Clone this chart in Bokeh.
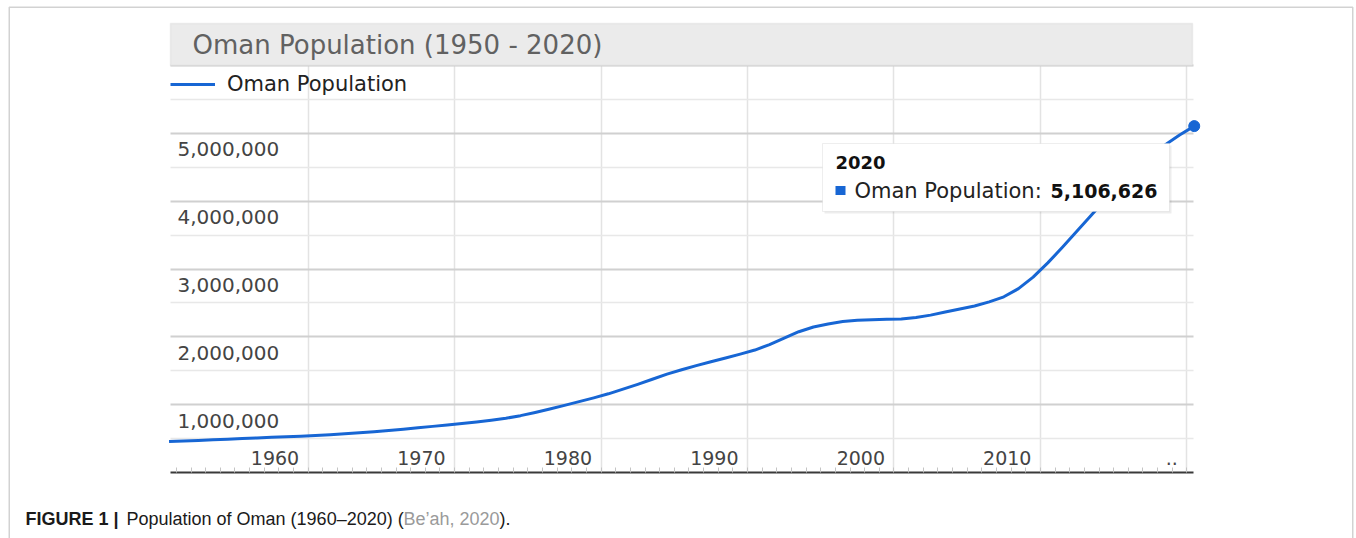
from bokeh.plotting import figure
from bokeh.models import (Range1d, FixedTicker, BoxAnnotation, Label, Legend,
                          LegendItem, ColumnDataSource, LinearAxis, Grid)
from bokeh.core.properties import value
from bokeh.embed import file_html
from bokeh.resources import INLINE

# ---------------- data ----------------
years = list(range(1950, 2021))
population = [
    457000, 465000, 473000, 482000, 491000, 500000, 509000, 518000, 527000, 536000,   # 1950-1959
    546000, 558000, 571000, 586000, 602000, 620000, 639000, 659000, 680000, 701000,   # 1960-1969
    722000, 745000, 771000, 800000, 838000, 885000, 935000, 990000, 1045000, 1100000, # 1970-1979
    1160000, 1230000, 1300000, 1375000, 1450000, 1515000, 1575000, 1632000, 1688000, 1745000,  # 1980-1989
    1805000, 1885000, 1980000, 2075000, 2145000, 2190000, 2225000, 2243000, 2253000, 2258000,  # 1990-1999
    2262000, 2285000, 2320000, 2365000, 2410000, 2455000, 2515000, 2590000, 2710000, 2880000,  # 2000-2009
    3090000, 3320000, 3560000, 3800000, 4040000, 4267341, 4479219, 4665928, 4829473, 4974986,  # 2010-2019
    5106626,                                                                                    # 2020
]
decade_ticks = [1960, 1970, 1980, 1990, 2000, 2010, 2020]
decade_labels = ["1960", "1970", "1980", "1990", "2000", "2010", ".."]
y_major = [1_000_000, 2_000_000, 3_000_000, 4_000_000, 5_000_000]
y_labels = ["1,000,000", "2,000,000", "3,000,000", "4,000,000", "5,000,000"]
y_minor = [500_000, 1_500_000, 2_500_000, 3_500_000, 4_500_000, 5_500_000]
y_top = 6_000_000

title_text = "Oman Population (1950 - 2020)"
series_name = "Oman Population"
caption_bold = "FIGURE 1 |"
caption_text = "Population of Oman (1960\u20132020) ("
caption_ref = "Be\u2019ah, 2020"
caption_end = ")."

# ---------------- layout / styles ----------------
BLUE = "#1766d4"
FONT = "DejaVu Sans"
CAPFONT = "Liberation Sans"

W, H = 1356, 538
CH_L, CH_R, CH_T, CH_B = 170, 1193, 65, 472      # chart area in page px
X0, X1 = 1950.6, 2020.45                          # visible chart domain
Y0, Y1 = 0, y_top

kx = (CH_R - CH_L) / (X1 - X0)
ky = (CH_B - CH_T) / (Y1 - Y0)
x_range = Range1d(X0 - CH_L / kx, X0 + (W - CH_L) / kx)
y_range = Range1d(Y0 - (H - CH_B) / ky, Y1 + CH_T / ky)

def sx(px):
    return px

def sy(py):
    return H - py

p = figure(width=W, height=H, x_range=x_range, y_range=y_range,
           x_axis_location=None, y_axis_location=None,
           min_border=0, min_border_left=0, min_border_right=0,
           min_border_top=0, min_border_bottom=0,
           output_backend="svg", toolbar_location=None)
p.outline_line_color = None
p.background_fill_color = "white"
p.border_fill_color = "white"
p.xgrid.visible = False
p.ygrid.visible = False

# grids restricted to the chart area
has_cross = "cross_bounds" in Grid.properties()
xg = Grid(dimension=0, ticker=FixedTicker(ticks=decade_ticks),
          grid_line_color="#e3e3e3", grid_line_width=1.5)
yg = Grid(dimension=1, ticker=FixedTicker(ticks=y_major + [y_top], minor_ticks=y_minor),
          grid_line_color="#d0d0d0", grid_line_width=2,
          minor_grid_line_color="#e8e8e8", minor_grid_line_width=1.5)
if has_cross:
    xg.cross_bounds = (Y0, Y1)
    yg.cross_bounds = (X0, X1)
    p.add_layout(xg)
    p.add_layout(yg)
else:
    p.segment(x0=decade_ticks, x1=decade_ticks, y0=[Y0] * len(decade_ticks), y1=[Y1] * len(decade_ticks),
              line_color="#e3e3e3", line_width=1.5)
    p.segment(x0=[X0] * len(y_minor), x1=[X1] * len(y_minor), y0=y_minor, y1=y_minor,
              line_color="#e8e8e8", line_width=1.5)
    p.segment(x0=[X0] * 6, x1=[X1] * 6, y0=y_major + [y_top], y1=y_major + [y_top],
              line_color="#d0d0d0", line_width=2)

# x axis as baseline at y = 0, with yearly minor ticks (labels drawn inside the chart)
xa = LinearAxis(fixed_location=0, bounds=(X0, X1),
                ticker=FixedTicker(ticks=[], minor_ticks=years[1:]))
xa.major_label_standoff = 0
xa.major_tick_line_color = None
xa.major_tick_in = 0
xa.major_tick_out = 0
xa.minor_tick_in = 5
xa.minor_tick_out = 0
xa.minor_tick_line_color = "#c4c4c4"
xa.axis_line_color = "#3a3a3a"
xa.axis_line_width = 2
p.add_layout(xa, "below")

# series (mid-year values)
src = ColumnDataSource(dict(x=[y + 0.5 for y in years], pop=population))
r = p.line("x", "pop", source=src, line_color=BLUE, line_width=3, line_join="round")
p.scatter(x=[years[-1] + 0.5], y=[population[-1]], size=11, color=BLUE)

# axis labels inside the chart area
p.text(x=[X0] * len(y_major), y=y_major, text=y_labels,
       x_offset=7, y_offset=16, text_align="left", text_baseline="middle",
       text_font=value(FONT), text_font_size="20px", text_color="#444444")
p.text(x=decade_ticks, y=[Y0] * len(decade_ticks), text=decade_labels,
       x_offset=-9, y_offset=-15, text_align="right", text_baseline="middle",
       text_font=value(FONT), text_font_size="19px", text_color="#444444")

# legend
leg = Legend(items=[LegendItem(label=series_name, renderers=[r])],
             location=(CH_L, sy(84) - 12), padding=0, margin=0, spacing=0,
             glyph_width=45, glyph_height=24, label_height=24, label_standoff=12,
             label_text_font=FONT, label_text_font_size="21px", label_text_color="#222222",
             background_fill_alpha=0, border_line_color=None)
p.add_layout(leg)

def box(l, r_, t, b, **kw):
    return BoxAnnotation(left=sx(l), right=sx(r_), top=sy(t), bottom=sy(b),
                         left_units="screen", right_units="screen",
                         top_units="screen", bottom_units="screen", **kw)

def lab(x, y, text, size, font=FONT, style="normal", color="#222222"):
    return Label(x=sx(x), y=sy(y), x_units="screen", y_units="screen", text=text,
                 text_font=font, text_font_size=size, text_font_style=style,
                 text_color=color, text_baseline="middle")

# outer figure frame (left, top, right)
p.add_layout(box(8.75, 1352.25, 6.75, 700, fill_color=None, line_color="#6a6a6a", line_width=1.5))

# title box
p.add_layout(box(170, 1192, 23, 65, fill_color="#ebebeb", fill_alpha=1,
                 line_color="#cdcdcd", line_width=1.5))
p.add_layout(lab(192, 44, title_text, "26px", color="#616161"))

# tooltip for the last point
p.add_layout(box(824, 1171, 145, 213, fill_color="#000000", fill_alpha=0.07, line_color=None))
p.add_layout(box(822, 1169, 143, 211, fill_color="white", fill_alpha=1,
                 line_color="#c6c6c6", line_width=1))
p.add_layout(lab(835, 162, str(years[-1]), "18px", style="bold", color="#111111"))
p.add_layout(box(835, 845, 185.5, 194.5, fill_color=BLUE, fill_alpha=1, line_color=None))
p.add_layout(lab(854, 190, series_name + ":", "21px"))
p.add_layout(lab(1050, 190, f"{population[-1]:,}", "19px", style="bold", color="#111111"))

# caption
p.add_layout(lab(25, 518, caption_bold, "18px", font=CAPFONT, style="bold", color="#1a1a1a"))
p.add_layout(lab(126, 518, caption_text, "18px", font=CAPFONT, color="#1a1a1a"))
p.add_layout(lab(403, 518, caption_ref, "18px", font=CAPFONT, color="#9a9a9a"))
p.add_layout(lab(499, 518, caption_end, "18px", font=CAPFONT, color="#1a1a1a"))

open("out.html", "w").write(file_html(p, INLINE))
